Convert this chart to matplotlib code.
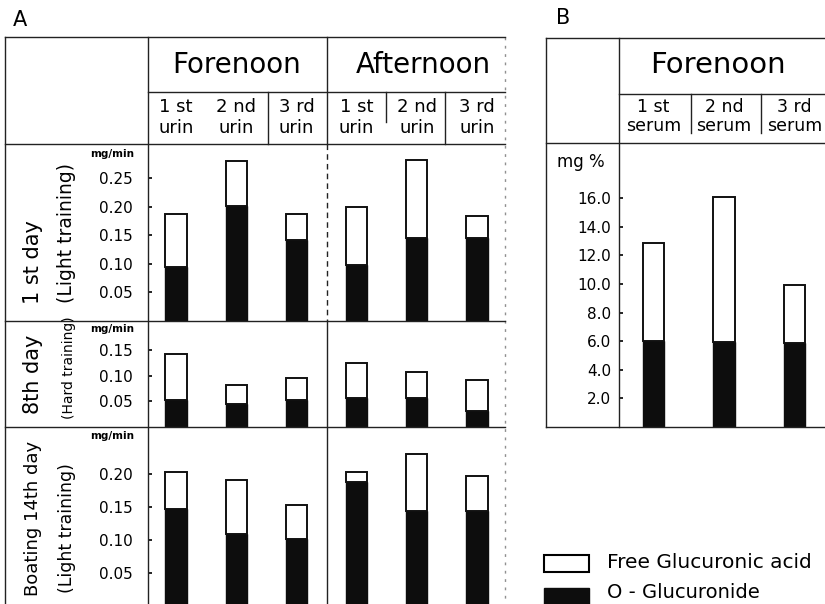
import matplotlib
matplotlib.use("Agg")
import matplotlib.pyplot as plt
import matplotlib.transforms as mtransforms
import numpy as np
from matplotlib.lines import Line2D
from matplotlib.patches import Rectangle

# ---- data ----
periods = ["Forenoon", "Afternoon"]
urine_labels = ["1 st\nurin", "2 nd\nurin", "3 rd\nurin", "1 st\nurin", "2 nd\nurin", "3 rd\nurin"]
serum_labels = ["1 st\nserum", "2 nd\nserum", "3 rd\nserum"]
row_days = ["1 st day", "8th day", "Boating 14th day"]
row_training = ["(Light training)", "(Hard training)", "(Light training)"]

# mg/min, total glucuronic acid (bar top) and O-glucuronide (dark part)
day1_total = [0.188, 0.280, 0.188, 0.200, 0.282, 0.184]
day1_ogluc = [0.094, 0.201, 0.141, 0.097, 0.145, 0.146]
day8_total = [0.142, 0.082, 0.096, 0.124, 0.108, 0.092]
day8_ogluc = [0.052, 0.045, 0.052, 0.056, 0.056, 0.031]
day14_total = [0.202, 0.190, 0.152, 0.203, 0.230, 0.197]
day14_ogluc = [0.146, 0.108, 0.101, 0.188, 0.144, 0.144]

# mg %, serum
serum_total = [12.9, 16.1, 9.9]
serum_ogluc = [6.0, 5.95, 5.9]

row_ticks = [[0.05, 0.10, 0.15, 0.20, 0.25], [0.05, 0.10, 0.15], [0.05, 0.10, 0.15, 0.20]]
serum_ticks = [2, 4, 6, 8, 10, 12, 14, 16]

W, H = 825, 604
fig = plt.figure(figsize=(W / 100, H / 100), dpi=100)
plt.rcParams["font.family"] = "DejaVu Sans"


def fx(x):
    return x / W


def fy(y):
    return 1 - y / H


def px_axes(x0, y0, x1, y1):
    ax = fig.add_axes([fx(x0), fy(y1), (x1 - x0) / W, (y1 - y0) / H])
    ax.set_facecolor("none")
    for s in ax.spines.values():
        s.set_visible(False)
    ax.set_xticks([])
    return ax


def hline(x0, x1, y, **kw):
    fig.add_artist(Line2D([fx(x0), fx(x1)], [fy(y), fy(y)], color="#222", lw=1.0, **kw))


def vline(x, y0, y1, **kw):
    fig.add_artist(Line2D([fx(x), fx(x)], [fy(y0), fy(y1)], color="#222", lw=1.0, **kw))


def stacked(ax, x, total, ogluc, width):
    total = np.array(total)
    ogluc = np.array(ogluc)
    ax.bar(x, ogluc, width, color="#0d0d0d", edgecolor="#0d0d0d", lw=1.0)
    ax.bar(x, total - ogluc, width, bottom=ogluc, color="white", edgecolor="#111", lw=1.4)


# ---- panel A ----
fig.text(fx(20), fy(20), "A", fontsize=15, ha="center", va="center")

hline(5, 505, 37)
vline(5, 37, 604)
vline(148, 37, 604)
vline(327, 37, 144)
vline(327, 144, 321, linestyle=(0, (4, 3)))
vline(327, 321, 604)
hline(148, 505, 92)
vline(268, 92, 144)
vline(386, 92, 122)
vline(445, 92, 144)
hline(5, 505, 144)
hline(5, 505, 321)
hline(5, 505, 427)
vline(505, 37, 604, linestyle=(0, (2, 4)), alpha=0.5)

fig.text(fx(237), fy(65), periods[0], fontsize=20, ha="center", va="center")
fig.text(fx(423), fy(65), periods[1], fontsize=20, ha="center", va="center")

row_boxes = [(144, 320.7), (320.7, 427.3), (427.3, 605.8)]
row_ylim = [0.3105, 0.2064, 0.270]
row_data = [(day1_total, day1_ogluc), (day8_total, day8_ogluc), (day14_total, day14_ogluc)]
mg_y = [154, 329, 436]
day_pos = [(33, 262, 15), (33, 374, 15), (33, 518, 13)]
train_pos = [(66, 233, 13.5), (69, 368, 10), (67, 528, 12.5)]

x = np.arange(6)
row_axes = []
for i, (y0, y1) in enumerate(row_boxes):
    ax = px_axes(148, y0, 505, y1)
    stacked(ax, x, row_data[i][0], row_data[i][1], 0.35)
    ax.set_xlim(-0.465, 5.465)
    ax.set_ylim(0, row_ylim[i])
    ax.set_yticks(row_ticks[i])
    ax.set_yticklabels(["%.2f" % t for t in row_ticks[i]])
    ax.tick_params(axis="y", direction="in", length=3, width=1.2, pad=10.8, labelsize=11)
    row_axes.append(ax)
    fig.text(fx(112), fy(mg_y[i]), "mg/min", fontsize=7.5, fontweight="bold", ha="center", va="center")
    dx, dy, dfs = day_pos[i]
    fig.text(fx(dx), fy(dy), row_days[i], fontsize=dfs, rotation=90, ha="center", va="center")
    tx, ty, tfs = train_pos[i]
    fig.text(fx(tx), fy(ty), row_training[i], fontsize=tfs, rotation=90, ha="center", va="center")

# sub-header labels follow the bar positions
trans_a = mtransforms.blended_transform_factory(row_axes[0].transData, fig.transFigure)
for xi, lab in zip(x, urine_labels):
    row_axes[0].text(xi, fy(117.5), lab, transform=trans_a, fontsize=13, ha="center", va="center",
                     linespacing=1.15)

# ---- panel B ----
fig.text(fx(563), fy(18), "B", fontsize=15, ha="center", va="center")

hline(546, 825, 38)
vline(546, 38, 427)
vline(619, 38, 427)
hline(619, 825, 94)
vline(691, 94, 133)
vline(761, 94, 133)
hline(546, 825, 143)
hline(546, 825, 427)

fig.text(fx(718), fy(65), periods[0], fontsize=21, ha="center", va="center")
fig.text(fx(557), fy(162), "mg %", fontsize=12, ha="left", va="center")

axb = px_axes(619, 143, 825, 427)
xb = np.arange(3)
stacked(axb, xb, serum_total, serum_ogluc, 0.31)
axb.set_xlim(-0.489, 2.433)
axb.set_ylim(0, 19.86)
axb.set_yticks(serum_ticks)
axb.set_yticklabels(["%.1f" % t for t in serum_ticks])
axb.tick_params(axis="y", direction="in", length=3, width=1.2, pad=5.8, labelsize=11)

trans_b = mtransforms.blended_transform_factory(axb.transData, fig.transFigure)
for xi, lab in zip(xb, serum_labels):
    axb.text(xi, fy(116.5), lab, transform=trans_b, fontsize=12.5, ha="center", va="center",
             linespacing=1.1)

# legend
fig.add_artist(Rectangle((fx(544), fy(572)), 45 / W, 17 / H, transform=fig.transFigure,
                         facecolor="white", edgecolor="black", lw=1.5))
fig.add_artist(Rectangle((fx(544), fy(606)), 45 / W, 18 / H, transform=fig.transFigure,
                         facecolor="#0d0d0d", edgecolor="#0d0d0d", lw=1.0))
fig.text(fx(607), fy(563), "Free Glucuronic acid", fontsize=14.5, ha="left", va="center")
fig.text(fx(607), fy(592), "O - Glucuronide", fontsize=14, ha="left", va="center")

fig.savefig("out.png", dpi=100)
